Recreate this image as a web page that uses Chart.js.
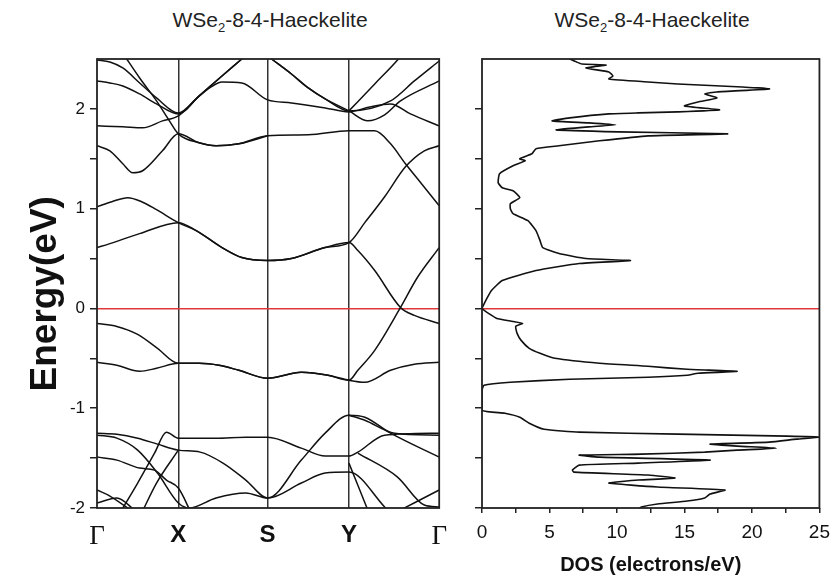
<!DOCTYPE html>
<html>
<head>
<meta charset="utf-8">
<script src="https://cdn.jsdelivr.net/npm/chart.js@4.4.0/dist/chart.umd.min.js"></script>
<style>
  body { margin: 0; background: #fff; width: 838px; height: 577px; position: relative; overflow: hidden;
         font-family: "Liberation Sans", Arial, sans-serif; }
  #bands { position: absolute; left: 0; top: 0; }
  #dos { position: absolute; left: 460px; top: 0; }
  .title { position: absolute; top: 8px; width: 300px; text-align: center; font-size: 21px; line-height: 24px; color: #222; }
  .title sub { font-size: 13px; }
</style>
</head>
<body>
<div class="title" style="left:120px">WSe<sub>2</sub>-8-4-Haeckelite</div>
<div class="title" style="left:502px">WSe<sub>2</sub>-8-4-Haeckelite</div>
<canvas id="bands" width="460" height="577"></canvas>
<canvas id="dos" width="378" height="577"></canvas>
<script>
// k-path (distance along path) and labels
const kTicks = [0, 82, 172, 254, 345];
const kLabels = ['Γ', 'X', 'S', 'Y', 'Γ'];
const energyTicks = [-2, -1.5, -1, -0.5, 0, 0.5, 1, 1.5, 2];
const dosTicks = [0, 2.5, 5, 7.5, 10, 12.5, 15, 17.5, 20, 22.5, 25];

// bands: [k, E(eV)]
const band1 = [[0,0.61],[13,0.65],[43,0.75],[82,0.86],[100,0.78],[126,0.61],[146,0.51],[172,0.48],[196,0.50],[230,0.61],[254,0.66],[263,0.58],[280,0.38],[306,0.01],[320,-0.07],[345,-0.15]];
const band2 = [[0,1.02],[15,1.07],[31,1.11],[45,1.07],[60,0.99],[82,0.86],[100,0.78],[126,0.61],[146,0.51],[172,0.48],[196,0.50],[230,0.61],[254,0.66],[270,0.86],[290,1.12],[311,1.42],[330,1.58],[345,1.63]];
const band3 = [[0,-0.15],[20,-0.18],[41,-0.26],[61,-0.40],[82,-0.55],[103,-0.55],[123,-0.57],[143,-0.62],[172,-0.70],[206,-0.64],[233,-0.67],[254,-0.72],[263,-0.62],[280,-0.42],[306,0.01],[323,0.31],[345,0.61]];
const band4 = [[0,-0.54],[20,-0.57],[43,-0.63],[60,-0.60],[82,-0.55],[103,-0.55],[123,-0.57],[143,-0.62],[172,-0.70],[206,-0.64],[233,-0.67],[254,-0.72],[270,-0.74],[296,-0.62],[320,-0.56],[345,-0.54]];
const band5 = [[0,1.63],[13,1.58],[26,1.45],[36,1.36],[46,1.38],[66,1.58],[82,1.75],[103,1.66],[120,1.63],[143,1.65],[172,1.73],[213,1.74],[254,1.78],[280,1.78],[296,1.65],[311,1.45],[328,1.24],[345,1.03]];
const band6 = [[0,2.95],[30,2.5],[43,2.31],[60,2.08],[73,1.88],[82,1.75],[103,1.66],[120,1.63],[143,1.65],[172,1.73]];
const band7 = [[0,1.83],[26,1.82],[46,1.81],[66,1.88],[82,1.93],[100,2.10],[115,2.22],[126,2.27],[146,2.26],[172,2.09],[196,2.06],[230,2.01],[254,1.97],[275,2.02],[296,2.05],[316,1.95],[345,1.83]];
const band8 = [[0,2.28],[13,2.26],[26,2.23],[43,2.15],[60,2.05],[82,1.95],[103,2.13],[126,2.33],[146,2.50],[160,2.62],[176,2.50],[196,2.35],[213,2.21],[230,2.10],[254,1.98],[273,1.88],[290,1.94],[306,2.08],[345,2.28]];
const band9 = [[0,2.49],[13,2.47],[26,2.41],[43,2.26],[60,2.11],[82,1.96],[103,2.13],[126,2.33],[146,2.50],[160,2.62],[176,2.50],[196,2.35],[213,2.21],[230,2.10],[254,1.98],[296,2.08],[320,2.28],[345,2.48]];
const band10 = [[254,1.98],[280,2.25],[303,2.49],[320,2.70]];
const band11 = [[0,-1.25],[20,-1.26],[41,-1.30],[61,-1.36],[82,-1.42],[104,-1.44],[127,-1.55],[150,-1.72],[172,-1.90],[206,-1.52],[230,-1.25],[254,-1.07],[270,-1.09],[296,-1.25],[345,-1.49]];
const band12 = [[0,-1.27],[20,-1.30],[41,-1.42],[61,-1.65],[82,-1.95],[93,-2.0],[120,-1.90],[150,-1.85],[172,-1.90],[206,-1.75],[230,-1.65],[254,-1.64],[290,-1.99],[300,-2.1]];
const band13 = [[0,-1.49],[20,-1.52],[43,-1.60],[58,-1.62],[70,-1.72],[82,-1.80],[95,-2.05]];
const band14 = [[20,-2.1],[41,-1.75],[58,-1.45],[70,-1.24],[82,-1.30],[120,-1.30],[150,-1.29],[172,-1.29],[206,-1.40],[230,-1.48],[254,-1.48],[263,-1.44],[290,-1.27],[345,-1.25]];
const band15 = [[45,-2.05],[60,-1.75],[82,-1.42]];
const band16 = [[0,-1.82],[13,-1.88],[38,-2.05]];
const band17 = [[0,-1.95],[20,-1.90],[38,-2.02]];
const band18 = [[254,-1.07],[270,-1.12],[300,-1.25],[345,-1.27]];
const band19 = [[254,-1.55],[273,-2.02]];
const band20 = [[263,-1.45],[303,-1.69],[330,-1.97],[345,-1.99]];
const band21 = [[306,-2.02],[345,-1.82]];

// density of states: energy (eV) and DOS (electrons/eV)
const dosEnergy = [2.50,2.47,2.45,2.44,2.41,2.37,2.33,2.30,2.27,2.25,2.22,2.20,2.17,2.15,2.11,2.07,2.03,1.99,1.97,1.96,1.95,1.91,1.88,1.86,1.84,1.82,1.79,1.77,1.75,1.73,1.68,1.63,1.60,1.55,1.50,1.48,1.43,1.35,1.26,1.21,1.18,1.11,1.05,1.00,0.95,0.88,0.78,0.68,0.61,0.55,0.50,0.48,0.45,0.38,0.28,0.18,0.11,0.03,0.00,-0.06,-0.10,-0.13,-0.15,-0.18,-0.25,-0.32,-0.40,-0.45,-0.50,-0.55,-0.58,-0.61,-0.63,-0.65,-0.67,-0.69,-0.71,-0.74,-0.77,-0.82,-1.02,-1.05,-1.09,-1.15,-1.21,-1.24,-1.26,-1.28,-1.29,-1.31,-1.34,-1.36,-1.38,-1.40,-1.42,-1.44,-1.46,-1.47,-1.49,-1.52,-1.55,-1.57,-1.62,-1.64,-1.67,-1.70,-1.72,-1.75,-1.79,-1.82,-1.86,-1.90,-1.93,-1.96,-1.99,-2.01];
const dosValue = [6.5,7.0,7.4,9.2,7.7,9.4,9.7,9.4,12.3,14.5,19.3,21.3,17.4,16.5,17.4,16.0,15.0,17.6,14.5,11.6,9.4,6.5,5.2,7.9,9.9,7.9,5.5,10.1,18.2,12.3,8.7,5.7,4.0,3.7,2.8,3.2,2.3,1.3,1.2,1.5,2.3,2.8,2.1,2.1,2.3,3.4,4.0,4.3,4.5,5.7,7.7,11.0,7.2,4.0,1.5,0.7,0.4,0.1,0,0.6,1.1,2.3,3.0,2.5,2.6,2.9,3.5,4.3,5.4,8.7,12.3,15.2,18.9,16.0,15.2,12.3,6.5,2.1,0.15,0,0,1.7,2.8,3.5,4.6,7.2,14.5,22.6,25,23.3,21.3,16.9,18.9,21.8,18.9,16.5,11.8,7.2,8.7,16.9,11.6,7.2,6.7,6.8,12.3,14.3,11.6,9.4,13.0,18.0,16.9,16.5,15.2,13.0,11.8,11.6];

const bands = [band1, band2, band3, band4, band5, band6, band7, band8, band9, band10, band11,
               band12, band13, band14, band15, band16, band17, band18, band19, band20, band21];

const frame = {
  id: 'frame',
  afterDatasetsDraw(chart) {
    const { ctx, chartArea: a } = chart;
    ctx.save();
    ctx.strokeStyle = '#222';
    ctx.lineWidth = 1.8;
    ctx.strokeRect(a.left, a.top, a.right - a.left, a.bottom - a.top);
    ctx.restore();
  }
};

const zeroRed = ctx => (ctx.tick && ctx.tick.value === 0) ? '#e0383a' : 'rgba(0,0,0,0)';
const sans = '"Liberation Sans", Arial, sans-serif';

new Chart(document.getElementById('bands'), {
  type: 'scatter',
  data: {
    datasets: bands.map(b => ({
      data: b.map(p => ({ x: p[0], y: p[1] })),
      showLine: true,
      borderColor: '#111',
      borderWidth: 1.5,
      pointRadius: 0,
      cubicInterpolationMode: 'monotone'
    }))
  },
  options: {
    responsive: false,
    animation: false,
    events: [],
    layout: { padding: { top: 59, right: 18, left: 0, bottom: 0 } },
    plugins: { legend: { display: false }, tooltip: { enabled: false } },
    scales: {
      x: {
        type: 'linear', min: 0, max: 345,
        afterBuildTicks: s => { s.ticks = kTicks.map(v => ({ value: v })); },
        afterFit: s => { s.height = 69; },
        border: { display: false },
        grid: {
          drawTicks: false, lineWidth: 1.5,
          color: ctx => (ctx.tick && ctx.tick.value > 0 && ctx.tick.value < 345) ? '#333' : 'rgba(0,0,0,0)'
        },
        ticks: {
          padding: 13, color: '#111',
          callback: (v, i) => kLabels[i],
          font: ctx => (ctx.index === 0 || ctx.index === 4)
            ? { family: '"Liberation Serif", "Times New Roman", serif', size: 27 }
            : { family: sans, size: 24, weight: 'bold' }
        }
      },
      y: {
        min: -2, max: 2.5,
        afterBuildTicks: s => { s.ticks = energyTicks.map(v => ({ value: v })); },
        afterFit: s => { s.width = 97; },
        border: { display: false },
        grid: { color: zeroRed, tickColor: '#222', lineWidth: 1.5, tickLength: 7 },
        ticks: {
          padding: 5, color: '#111',
          font: { family: sans, size: 17 },
          callback: v => Number.isInteger(v) ? String(v) : ''
        },
        title: {
          display: true, text: 'Energy(eV)\u00a0\u00a0', color: '#111',
          font: { family: sans, size: 37, weight: 'bold' },
          padding: { top: 24, bottom: 0 }
        }
      }
    }
  },
  plugins: [frame]
});

new Chart(document.getElementById('dos'), {
  type: 'scatter',
  data: {
    datasets: [{
      data: dosEnergy.map((e, i) => ({ x: dosValue[i], y: e })),
      showLine: true,
      borderColor: '#111',
      borderWidth: 1.6,
      pointRadius: 0,
      tension: 0.15
    }]
  },
  options: {
    responsive: false,
    animation: false,
    events: [],
    layout: { padding: { top: 59, right: 15, left: 0, bottom: 0 } },
    plugins: { legend: { display: false }, tooltip: { enabled: false } },
    scales: {
      x: {
        type: 'linear', min: 0, max: 25,
        afterBuildTicks: s => { s.ticks = dosTicks.map(v => ({ value: v })); },
        afterFit: s => { s.height = 69; },
        border: { display: false },
        grid: { color: 'rgba(0,0,0,0)', tickColor: '#222', tickLength: 5, lineWidth: 1.5 },
        ticks: {
          padding: 8, color: '#111',
          font: { family: sans, size: 19 },
          callback: v => (v % 5 === 0) ? String(v) : ''
        },
        title: {
          display: true, text: 'DOS (electrons/eV)', color: '#111',
          font: { family: sans, size: 20, weight: 'bold' },
          padding: { top: 0, bottom: 0 }
        }
      },
      y: {
        min: -2, max: 2.5,
        afterBuildTicks: s => { s.ticks = energyTicks.map(v => ({ value: v })); },
        afterFit: s => { s.width = 22; },
        border: { display: false },
        grid: { color: zeroRed, tickColor: '#222', lineWidth: 1.5, tickLength: 7 },
        ticks: { display: true, callback: () => '' }
      }
    }
  },
  plugins: [frame]
});
</script>
</body>
</html>
